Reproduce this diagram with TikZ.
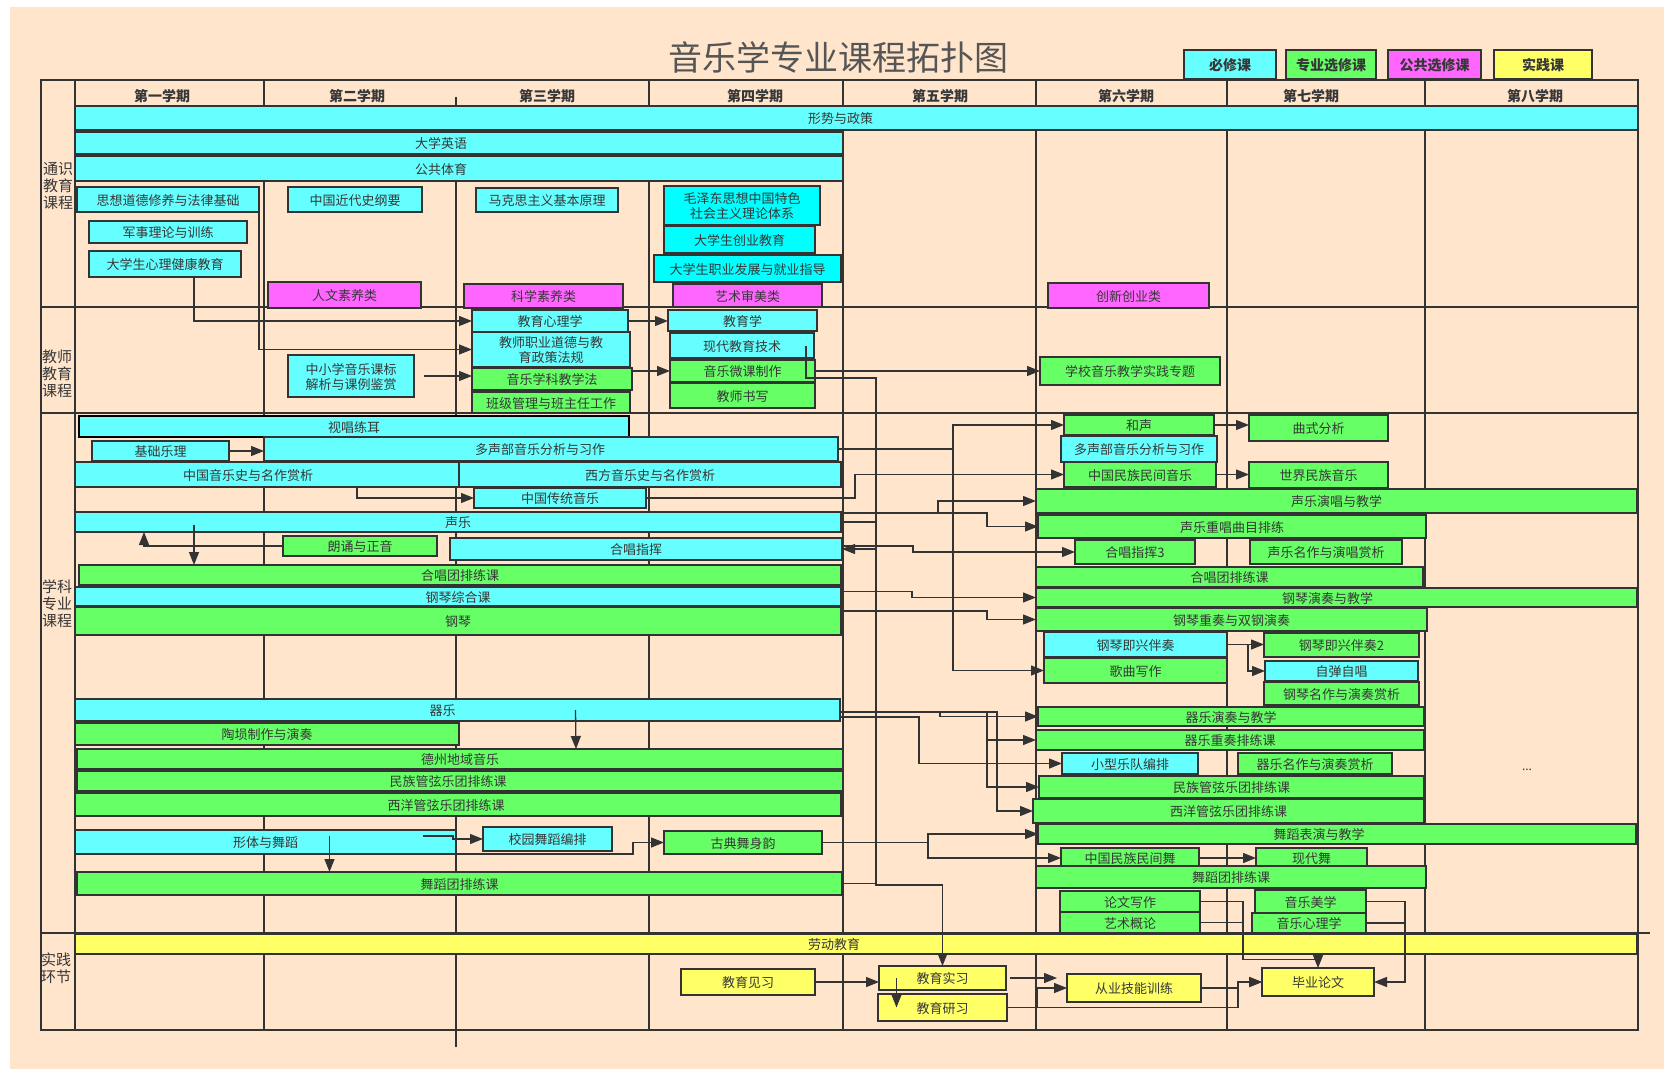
\documentclass[tikz,border=0pt]{standalone}
\usepackage{fontspec}
\setmainfont{Noto Sans CJK SC}
\usepackage{xcolor}
\usepackage{tikz}
\usetikzlibrary{arrows.meta}
\definecolor{bgpeach}{RGB}{255,229,204}
\definecolor{linegray}{RGB}{51,51,51}
\definecolor{txtgray}{RGB}{55,55,55}
\definecolor{titlegray}{RGB}{85,85,85}
\definecolor{reqcyan}{RGB}{102,255,255}
\definecolor{reqbright}{RGB}{0,255,255}
\definecolor{elecgreen}{RGB}{102,255,102}
\definecolor{pubpink}{RGB}{255,102,255}
\definecolor{pracyellow}{RGB}{255,255,102}

\begin{document}
\begin{tikzpicture}[x=1pt,y=-1pt,
  cbox/.style args={#1/#2/#3/#4}{at={({(#1+#3)/2},{(#2+#4)/2})}, minimum width={(#3-#1)*1pt}, minimum height={(#4-#2)*1pt}},
  box/.style={draw=linegray, line width=1.2pt, inner sep=0pt, outer sep=0pt, text=txtgray, align=center, text height=12pt, text depth=1pt, font=\fontsize{13}{15}\selectfont},
  twoline/.style={text height=27pt, text depth=1pt},
  req/.style={box, fill=reqcyan},
  reqb/.style={box, fill=reqbright},
  mjr/.style={box, fill=elecgreen},
  pub/.style={box, fill=pubpink},
  prac/.style={box, fill=pracyellow},
  legend/.style={box, text height=13pt, font=\bfseries\fontsize{14}{16}\selectfont},
  gridln/.style={draw=linegray, line width=1.3pt},
  conn/.style={draw=linegray, line width=1.3pt},
  arr/.style={conn, -{Triangle[length=13pt,width=10pt]}},
  sem/.style={font=\bfseries\fontsize{14}{16}\selectfont, text=txtgray, text height=12pt, text depth=1pt},
  cat/.style={font=\fontsize{15}{17}\selectfont, text=txtgray, align=center, inner sep=0pt}]
\useasboundingbox (0,0) rectangle (1664,1069);
\fill[white] (0,0) rectangle (1664,1069);
\fill[bgpeach] (10,7) rectangle (1664,1069);

% table grid
\draw[gridln] (41,80) rectangle (1638,1030);
\draw[gridln] (75,80) -- (75,1030);
\foreach \x in {264,649,843,1036,1227,1425} \draw[gridln] (\x,80) -- (\x,1030);
\draw[gridln] (456,97) -- (456,1047);
\draw[gridln] (75,106) -- (1638,106);
\foreach \y in {307,413} \draw[gridln] (41,\y) -- (1638,\y);
\draw[gridln] (41,933) -- (1650,933);

\node[font=\fontsize{34}{36}\selectfont, text=titlegray] (title) at (838,57) {音乐学专业课程拓扑图};
\node[legend, fill=reqcyan, cbox=1184/50/1276/79] (lgbx) {必修课};
\node[legend, fill=elecgreen, cbox=1286/50/1376/79] (lgzx) {专业选修课};
\node[legend, fill=pubpink, cbox=1388/50/1481/79] (lggx) {公共选修课};
\node[legend, fill=pracyellow, cbox=1494/50/1592/79] (lgsj) {实践课};

\foreach \x/\t in {162/第一学期,357/第二学期,547/第三学期,755/第四学期,940/第五学期,1126/第六学期,1311/第七学期,1535/第八学期}
  \node[sem] (hd\x) at (\x,96) {\t};

\node[cat] (ctong) at (58,186) {通识\\教育\\课程};
\node[cat] (cjs) at (57,374) {教师\\教育\\课程};
\node[cat] (cxk) at (57,604) {学科\\专业\\课程};
\node[cat] (csj) at (56,968) {实践\\环节};

% general education
\node[req, cbox=75/106/1638/130] (xszc) {形势与政策\hspace*{32pt}};
\node[req, cbox=75/132/843/154] (dxyy) {大学英语\hspace*{36pt}};
\node[req, cbox=75/156/843/181] (ggty) {公共体育\hspace*{36pt}};
\node[req, cbox=77/187/259/212] (sxdd) {思想道德修养与法律基础};
\node[req, cbox=288/187/422/212] (jdsg) {中国近代史纲要};
\node[req, cbox=476/188/618/212] (mkszy) {马克思主义基本原理};
\node[reqb, twoline, cbox=664/186/820/225] (mzd) {毛泽东思想中国特色\\社会主义理论体系};
\node[reqb, cbox=664/226/815/253] (cyjy) {大学生创业教育};
\node[reqb, cbox=654/255/841/282] (zyfz) {大学生职业发展与就业指导};
\node[req, cbox=89/221/247/243] (jsll) {军事理论与训练};
\node[req, cbox=89/251/241/277] (xljk) {大学生心理健康教育};
\node[pub, cbox=268/282/421/308] (rwsy) {人文素养类};
\node[pub, cbox=464/284/623/308] (kxsy) {科学素养类};
\node[pub, cbox=673/284/822/307] (yssm) {艺术审美类};
\node[pub, cbox=1048/283/1209/308] (cxcy) {创新创业类};

% teacher education
\node[req, cbox=472/310/628/332] (jyxl) {教育心理学};
\node[req, twoline, cbox=472/332/630/367] (jszy) {教师职业道德与教\\育政策法规};
\node[mjr, cbox=472/368/632/390] (xkjx) {音乐学科教学法};
\node[mjr, cbox=472/392/630/413] (bjgl) {班级管理与班主任工作};
\node[req, twoline, cbox=288/355/414/397] (kbjx) {中小学音乐课标\\解析与课例鉴赏};
\node[req, cbox=668/310/817/331] (jyx) {教育学};
\node[req, cbox=670/333/814/358] (xdjs) {现代教育技术};
\node[mjr, cbox=670/360/815/382] (wkzz) {音乐微课制作};
\node[mjr, cbox=670/383/815/408] (jssx) {教师书写};
\node[mjr, cbox=1040/357/1220/385] (sjzt) {学校音乐教学实践专题};

% subject courses, semesters 1-4
\node[req, draw=black, line width=2pt, cbox=79/416/629/437] (sclr) {视唱练耳};
\node[req, cbox=92/441/229/461] (jcyl) {基础乐理};
\node[req, cbox=264/437/838/461] (dsb) {多声部音乐分析与习作\hspace*{22pt}};
\node[req, cbox=75/462/459/487] (zgyys) {中国音乐史与名作赏析\hspace*{38pt}};
\node[req, cbox=459/462/841/487] (xfyys) {西方音乐史与名作赏析};
\node[req, cbox=474/488/646/508] (ctyy) {中国传统音乐};
\node[req, cbox=75/512/841/532] (sy) {声乐};
\node[mjr, cbox=283/536/437/556] (ldzy) {朗诵与正音};
\node[req, cbox=450/538/842/560] (hczh) {合唱指挥\hspace*{20pt}};
\node[mjr, cbox=79/565/841/585] (hctd) {合唱团排练课};
\node[req, cbox=75/587/841/606] (gqzh) {钢琴综合课};
\node[mjr, cbox=75/607/841/635] (gq) {钢琴};
\node[req, cbox=75/699/840/721] (qy) {器乐\hspace*{30pt}};
\node[mjr, cbox=75/723/459/745] (txzz) {陶埙制作与演奏};
\node[mjr, cbox=77/749/843/769] (dzdy) {德州地域音乐};
\node[mjr, cbox=77/771/843/791] (mzgx) {民族管弦乐团排练课\hspace*{24pt}};
\node[mjr, cbox=75/793/841/816] (xygx) {西洋管弦乐团排练课\hspace*{24pt}};
\node[req, cbox=75/830/456/854] (xtwd) {形体与舞蹈};
\node[req, cbox=483/827/612/851] (xywd) {校园舞蹈编排};
\node[mjr, cbox=664/831/822/854] (gdwd) {古典舞身韵};
\node[mjr, cbox=77/872/842/895] (wdtd) {舞蹈团排练课};

% subject courses, semesters 6-8
\node[mjr, cbox=1064/415/1214/435] (hs) {和声};
\node[req, cbox=1061/436/1217/462] (dsb2) {多声部音乐分析与习作};
\node[mjr, cbox=1064/462/1216/487] (mjyy) {中国民族民间音乐};
\node[mjr, cbox=1249/415/1388/441] (qsfx) {曲式分析};
\node[mjr, cbox=1249/462/1388/488] (sjmz) {世界民族音乐};
\node[mjr, cbox=1036/489/1637/513] (sycj) {声乐演唱与教学};
\node[mjr, cbox=1038/515/1426/538] (sycm) {声乐重唱曲目排练};
\node[mjr, cbox=1075/540/1195/564] (hczh3) {合唱指挥3};
\node[mjr, cbox=1250/540/1402/564] (symz) {声乐名作与演唱赏析};
\node[mjr, cbox=1036/567/1423/587] (hctd2) {合唱团排练课};
\node[mjr, cbox=1036/588/1637/607] (gqyz) {钢琴演奏与教学\hspace*{18pt}};
\node[mjr, cbox=1036/608/1427/631] (gqcz) {钢琴重奏与双钢演奏};
\node[req, cbox=1044/632/1227/657] (gqjx) {钢琴即兴伴奏};
\node[mjr, cbox=1044/658/1227/683] (gqxz) {歌曲写作};
\node[mjr, cbox=1264/633/1419/657] (gqjx2) {钢琴即兴伴奏2};
\node[req, cbox=1265/661/1418/681] (ztzc) {自弹自唱};
\node[mjr, cbox=1264/682/1419/705] (gqmz) {钢琴名作与演奏赏析};
\node[mjr, cbox=1038/707/1424/726] (qyyz) {器乐演奏与教学};
\node[mjr, cbox=1036/730/1424/750] (qycz) {器乐重奏排练课};
\node[req, cbox=1062/753/1198/774] (xxyd) {小型乐队编排};
\node[mjr, cbox=1238/753/1392/774] (qymz) {器乐名作与演奏赏析};
\node[mjr, cbox=1039/776/1424/798] (mzgx2) {民族管弦乐团排练课};
\node[mjr, cbox=1033/799/1424/823] (xygx2) {西洋管弦乐团排练课};
\node[mjr, cbox=1038/824/1636/844] (wdby) {舞蹈表演与教学\hspace*{36pt}};
\node[mjr, cbox=1061/848/1199/868] (mjw) {中国民族民间舞};
\node[mjr, cbox=1256/848/1367/867] (xdw) {现代舞};
\node[mjr, cbox=1036/866/1426/888] (wdtd2) {舞蹈团排练课};
\node[mjr, cbox=1060/891/1200/912] (lwxz) {论文写作};
\node[mjr, cbox=1060/912/1200/933] (ysgl) {艺术概论};
\node[mjr, cbox=1255/890/1366/913] (yymx) {音乐美学};
\node[mjr, cbox=1252/913/1366/933] (yyxl) {音乐心理学};
\node[text=txtgray, font=\fontsize{12}{14}\selectfont] (more) at (1527,770) {...};

% practice
\node[prac, cbox=75/934/1637/954] (ldjy) {劳动教育\hspace*{44pt}};
\node[prac, cbox=681/969/815/995] (jyjx) {教育见习};
\node[prac, cbox=879/966/1006/990] (jysx) {教育实习};
\node[prac, cbox=878/994/1007/1021] (jyyx) {教育研习};
\node[prac, cbox=1067/974/1201/1002] (cyjn) {从业技能训练};
\node[prac, cbox=1262/968/1374/996] (bylw) {毕业论文};

\coordinate (trunk) at (876,378);
\coordinate (trunkend) at (876,885);

% connectors
\draw[arr] ([xshift=29]xljk.south) |- (jyxl.west);
\draw[arr] (sxdd.east) |- (jszy.west);
\draw[arr] ([xshift=10]kbjx.east) -- (kbjx.east -| xkjx.west);
\draw[arr] (jyxl.east) -- (jyxl.east -| jyx.west);
\draw[arr] (xkjx.east |- wkzz.west) -- (wkzz.west);
\draw[arr] (wkzz.east |- sjzt.west) -- (sjzt.west);
\draw[arr] ([xshift=-8]xdjs.east) |- (trunk) -- (trunkend) -| (jysx.north);
\draw[conn] (wdtd.east) -- (wdtd.east -| trunk);

\draw[arr] (jcyl.east) -- (jcyl.east -| dsb.west);
\draw[arr] ([xshift=90]zgyys.south) |- (ctyy.west);
\draw[arr] ([xshift=119,yshift=7]sy.south west) -- ([xshift=115]hctd.north west);
\draw[arr] (ldzy.west) -| ([xshift=69]sy.south west);
\draw[arr] (dsb.east) -- ++(115,0) |- (hs.west);
\draw[arr] (dsb.east) -- ++(115,0) |- (gqxz.west);
\draw[arr] (ctyy.east) -- ++(209,0) |- (mjyy.west);
\draw[arr] ([yshift=9]sy.east) -- ++(97,0) |- (sycj.west);
\draw[arr] ([yshift=9]sy.east) -- ++(146,0) |- (sycm.west);
\draw[arr] (sy.east) -- ++(35,0) |- (hczh.east);
\draw[arr] ([yshift=3]hczh.east) -- ++(71,0) |- (hczh3.west);
\draw[arr] ([yshift=5]gqzh.east) -- ++(71,0) |- (gqyz.west);
\draw[arr] ([yshift=10]gq.east) -- ++(146,0) |- (gqcz.west);
\draw[arr] ([yshift=-2]qy.east) -- ++(100,0) |- (qyyz.west);
\draw[arr] ([yshift=-2]qy.east) -- ++(147,0) |- (qycz.west);
\draw[arr] ([yshift=-2]qy.east) -- ++(147,0) |- (mzgx2.west);
\draw[arr] ([yshift=-2]qy.east) -- ++(157,0) |- (xygx2.west);
\draw[arr] ([yshift=-7]qy.east) -- ++(79,0) |- (xxyd.west);
\draw[arr] ([xshift=118]qy.center) -- ([xshift=116]dzdy.north);
\draw[arr] ([xshift=64,yshift=6]xtwd.center) -- ([xshift=-130]wdtd.north);
\draw[arr] ([xshift=-33,yshift=6]xtwd.east) -- ++(30,0) |- (xywd.west);
\draw[arr] ([xshift=-31]xtwd.south east) -- ++(208,0) |- (gdwd.west);
\draw[arr] (gdwd.east) -- ++(106,0) |- (wdby.west);
\draw[arr] (gdwd.east) -- ++(106,0) |- (mjw.west);

\draw[arr] (hs.east) -- (hs.east -| qsfx.west);
\draw[arr] (mjyy.east) -- (mjyy.east -| sjmz.west);
\draw[arr] (gqjx.east) -- (gqjx.east -| gqjx2.west);
\draw[arr] (gqjx.east) -- ++(21,0) |- (ztzc.west);
\draw[arr] (mjw.east) -- (mjw.east -| xdw.west);
\draw[arr] (lwxz.east) -- ++(43,0) -- ++(0,58) -| (bylw.north);
\draw[conn] (ysgl.east) -- ++(43,0);
\draw[arr] (yymx.east) -- ++(39,0) |- (bylw.east);
\draw[conn] (yyxl.east) -- ++(39,0);

\draw[arr] (jyjx.east) -- (jyjx.east -| jysx.west);
\draw[arr] ([xshift=-46]jysx.center) -- ([xshift=-46]jyyx.center);
\draw[arr] ([xshift=4]jysx.east) -- ([xshift=-10]jysx.east -| cyjn.west);
\draw[arr] (jyyx.east) -- ++(30,0) |- (cyjn.west);
\draw[arr] (jyyx.east) -- ++(231,0) |- (bylw.west);
\draw[arr] (cyjn.east) -- ++(37,0) |- (bylw.west);
\end{tikzpicture}
\end{document}
